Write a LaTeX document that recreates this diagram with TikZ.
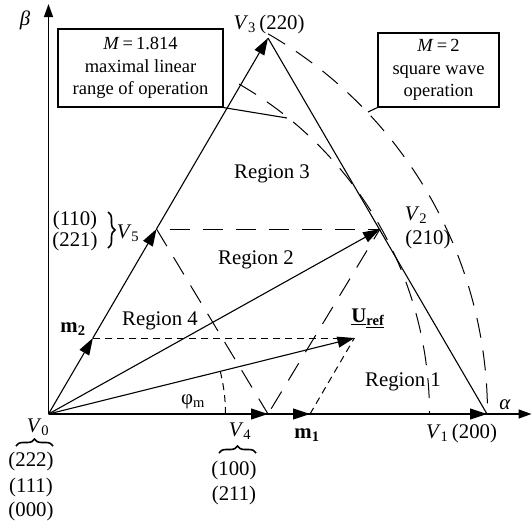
\documentclass[tikz,border=0pt]{standalone}
\usepackage{fontspec}
\setmainfont{Liberation Serif}
\usetikzlibrary{arrows.meta,decorations.pathreplacing,calc}
\newcommand\Vs[1]{\textit{V}\textsubscript{#1}}
\begin{document}
\begin{tikzpicture}[x=1pt,y=-1pt,
  ln/.style={line width=1.1pt},
  vec/.style={line width=1.1pt,-{Triangle[length=17pt,width=11pt]}},
  axline/.style={line width=1.4pt,-{Triangle[length=13pt,width=9pt]}},
  ld/.style={line width=1pt,dash pattern=on 20pt off 13pt},
  sd/.style={line width=1pt,dash pattern=on 7pt off 5pt},
  lbl/.style={font=\fontsize{20.8}{25}\selectfont,inner sep=0pt},
  boxtxt/.style={draw,line width=1.1pt,font=\fontsize{18.5}{22.5}\selectfont,align=center,inner sep=0pt},
  brc/.style={line width=1.6pt,decorate,decoration={brace,amplitude=7pt}}]
\useasboundingbox (0,0) rectangle (532,528);
% points
\coordinate (O) at (48.5,414);
\coordinate (V1) at (487,414);
\coordinate (V3) at (268,38);
\coordinate (V4) at (268,414);
\coordinate (V5) at (156.5,229);
\coordinate (V2) at (380,229);
\coordinate (M1) at (310,414);
\coordinate (M2) at (92.9,338);
\coordinate (U) at (354.4,338);
\coordinate (AX) at (531.5,414);
\coordinate (BY) at (48.5,4);
\coordinate (L1) at (287,118);
\coordinate (L2) at (368,112);
% arcs
\draw[ld] ($(O)+(-60:439)$) arc[start angle=-60,end angle=0,radius=439];
\draw[ld] ($(O)+(-60:381)$) arc[start angle=-60,end angle=0,radius=381];
\draw[sd] ($(O)+(177,0)$) arc[start angle=0,end angle=-14,radius=177];
% dashed region lines
\draw[ld,dash phase=20pt] (V5) -- (V2);
\draw[ld] (V5) -- (V4);
\draw[ld,dash phase=8pt] (V2) -- (V4);
\draw[sd] (M2) -- (U);
\draw[sd] (M1) -- (U);
% axes
\draw[axline] (O) -- (AX);
\draw[axline] (O) -- (BY);
% vectors
\draw[vec] (O) -- (V4);
\draw[vec] (V4) -- (M1);
\draw[vec] (M1) -- (V1);
\draw[vec] (O) -- (M2);
\draw[vec] (M2) -- (V5);
\draw[vec] (V5) -- (V3);
\draw[vec] (O) -- (V2);
\draw[vec] (O) -- (U);
\draw[ln] (V3) -- (V1);
% boxes
\node[boxtxt,minimum width=165pt,minimum height=78pt] (B1) at (140.5,68)
  {\textit{M}\,=\,1.814\\maximal linear\\range of operation};
\node[boxtxt,minimum width=121pt,minimum height=74pt] (B2) at (438.5,70)
  {\textit{M}\,=\,2\\square wave\\operation};
\draw[ln] (B1.south east) -- (L1);
\draw[ln] (B2.south west) -- (L2);
% labels
\node[lbl] (beta) at (25,20) {\textit{β}};
\node[lbl] (alpha) at (505,405) {\textit{α}};
\node[lbl] (v3l) at (269,24) {\Vs{3}\,(220)};
\node[lbl] (r3) at (272,174) {Region 3};
\node[lbl] (r2) at (256,260) {Region 2};
\node[lbl] (r4) at (160,321) {Region 4};
\node[lbl] (r1) at (403,382) {Region 1};
\node[lbl] (ul) at (368,318) {\underline{\textbf{U}}\textsubscript{\underline{\textbf{ref}}}};
\node[lbl] (v2l) at (416,215) {\Vs{2}};
\node[lbl] (v2c) at (428,239) {(210)};
\node[lbl] (c110) at (75,220) {(110)};
\node[lbl] (c221) at (75,241) {(221)};
\draw[brc] (108,212) -- (108,248);
\node[lbl] (v5l) at (128,233) {\Vs{5}};
\node[lbl] (m2l) at (73,329) {\textbf{m}\textsubscript{\textbf{2}}};
\node[lbl] (phil) at (193,402) {φ\textsubscript{m}};
\node[lbl] (v0l) at (38,427) {\Vs{0}};
\draw[brc] (16,446) -- (53,446);
\node[lbl] (c222) at (31,461) {(222)};
\node[lbl] (c111) at (31,487) {(111)};
\node[lbl] (c000) at (31,511) {(000)};
\node[lbl] (v4l) at (240,431) {\Vs{4}};
\draw[brc] (219,453) -- (256,453);
\node[lbl] (c100) at (234,470) {(100)};
\node[lbl] (c211) at (234,495) {(211)};
\node[lbl] (m1l) at (307,435) {\textbf{m}\textsubscript{\textbf{1}}};
\node[lbl] (v1l) at (461.5,433) {\Vs{1}\,(200)};
\end{tikzpicture}
\end{document}
